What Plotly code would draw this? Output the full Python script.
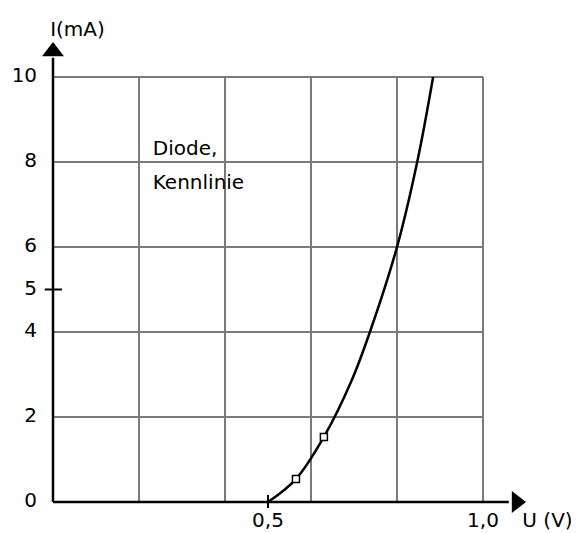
import plotly.graph_objects as go

# Data
curve_u = [0.50, 0.565, 0.63, 0.695, 0.737, 0.80, 0.847, 0.884]
curve_i = [0.0, 0.54, 1.53, 2.87, 4.0, 6.0, 8.0, 10.0]
meas_u = [0.565, 0.63]
meas_i = [0.54, 1.53]
grid_u = [0.2, 0.4, 0.6, 0.8, 1.0]
grid_i = [2, 4, 6, 8, 10]
ytick_vals = [0, 2, 4, 5, 6, 8, 10]
ytick_text = ["0", "2", "4", "5", "6", "8", "10"]
xtick_vals = [0.5, 1.0]
xtick_text = ["0,5", "1,0"]

FONT = "DejaVu Sans"
fig = go.Figure()

# grid lines
gx, gy = [], []
for u in grid_u:
    gx += [u, u, None]
    gy += [0, 10, None]
for i in grid_i:
    gx += [0, 1.0, None]
    gy += [i, i, None]
fig.add_trace(go.Scatter(x=gx, y=gy, mode="lines", line=dict(color="#7a7a7a", width=2),
                         hoverinfo="skip", showlegend=False))

# axes
fig.add_trace(go.Scatter(x=[0, 0, None, 0, 1.06], y=[10.45, 0, None, 0, 0], mode="lines",
                         line=dict(color="black", width=2.5), hoverinfo="skip", showlegend=False))
# arrow heads
fig.add_trace(go.Scatter(x=[0], y=[10.6], mode="markers",
                         marker=dict(symbol="triangle-up", size=19, color="black"),
                         cliponaxis=False, hoverinfo="skip", showlegend=False))
fig.add_trace(go.Scatter(x=[1.078], y=[0], mode="markers",
                         marker=dict(symbol="triangle-right", size=19, color="black"),
                         cliponaxis=False, hoverinfo="skip", showlegend=False))

# small tick marks at 0.5 and 5
fig.add_trace(go.Scatter(x=[0.5, 0.5, None, -0.019, 0.021], y=[0.165, -0.14, None, 5, 5],
                         mode="lines", line=dict(color="black", width=2),
                         hoverinfo="skip", showlegend=False))

# curve
fig.add_trace(go.Scatter(x=curve_u, y=curve_i, mode="lines",
                         line=dict(color="black", width=2.5, shape="spline", smoothing=1.0),
                         hoverinfo="skip", showlegend=False))
fig.add_trace(go.Scatter(x=meas_u, y=meas_i, mode="markers",
                         marker=dict(symbol="square", size=7, color="white",
                                     line=dict(color="black", width=1.5)),
                         hoverinfo="skip", showlegend=False))

# tick labels
fig.add_trace(go.Scatter(x=[-0.037] * len(ytick_vals), y=ytick_vals, mode="text",
                         text=ytick_text, textposition="middle left",
                         textfont=dict(family=FONT, size=20, color="black"),
                         cliponaxis=False, hoverinfo="skip", showlegend=False))
fig.add_trace(go.Scatter(x=xtick_vals, y=[-0.47, -0.47], mode="text",
                         text=xtick_text, textposition="middle center",
                         textfont=dict(family=FONT, size=20, color="black"),
                         cliponaxis=False, hoverinfo="skip", showlegend=False))

# axis titles and label
fig.add_trace(go.Scatter(x=[0.057, 1.15], y=[11.08, -0.47], mode="text",
                         text=["I(mA)", "U (V)"], textposition="middle center",
                         textfont=dict(family=FONT, size=20, color="black"),
                         cliponaxis=False, hoverinfo="skip", showlegend=False))
fig.add_trace(go.Scatter(x=[0.232, 0.232], y=[8.29, 7.48], mode="text",
                         text=["Diode,", "Kennlinie"], textposition="middle right",
                         textfont=dict(family=FONT, size=20, color="black"),
                         cliponaxis=False, hoverinfo="skip", showlegend=False))

fig.update_layout(
    width=579, height=533,
    margin=dict(l=2, r=18, t=2, b=10),
    paper_bgcolor="white", plot_bgcolor="white",
    xaxis=dict(range=[-0.1, 1.2], visible=False, fixedrange=True),
    yaxis=dict(range=[-0.682, 11.576], visible=False, fixedrange=True),
    showlegend=False,
)

fig.write_html("out.html")
